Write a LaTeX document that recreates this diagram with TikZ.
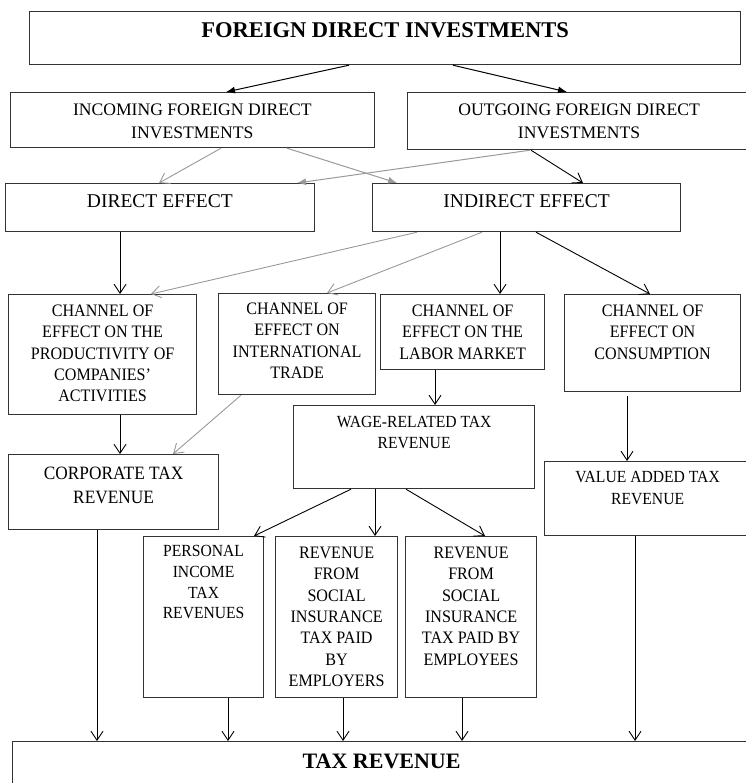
\documentclass[tikz,border=0pt]{standalone}
\usepackage{fontspec}
\setmainfont{Liberation Serif}
\newfontfamily\condfont{Liberation Serif}[FakeStretch=0.92]
\usetikzlibrary{arrows.meta}
\newcommand{\boxtext}[4]{\parbox[t][#2pt][t]{#1pt}{\centering\vspace*{#3pt}#4\par}}
\begin{document}
\begin{tikzpicture}[x=1pt,y=-1pt,
            blk/.style={draw=black!80, line width=1.2pt, anchor=north west, inner sep=0pt,
                        font=\condfont\fontsize{17.5}{21.3}\selectfont},
            arr/.style={draw=black, line width=0.9pt, -{Straight Barb[length=9pt,width=12pt]}},
            garr/.style={arr, draw=black!40},
            farr/.style={draw=black, line width=1pt, -{Latex[length=9pt,width=7pt]}},
            gfarr/.style={farr, draw=black!40}]
            \useasboundingbox (0,0) rectangle (745,783);
            % boxes
            \node[blk, font=\normalfont] (fdi) at (29,11){\boxtext{711}{53}{11}{\fontsize{22.5}{27}\selectfont\bfseries FOREIGN DIRECT INVESTMENTS}};
            \node[blk, font=\normalfont\fontsize{17.6}{23}\selectfont] (inc) at (9.5,92){\boxtext{364.5}{55}{11}{INCOMING FOREIGN DIRECT\\INVESTMENTS}};
            \node[blk, font=\normalfont\fontsize{17.6}{23}\selectfont] (out) at (407,92){\boxtext{343}{57}{11}{OUTGOING FOREIGN DIRECT\\INVESTMENTS}};
            \node[blk, font=\normalfont\fontsize{19.5}{23}\selectfont] (dir) at (5,183){\boxtext{308.5}{48}{10.5}{DIRECT EFFECT}};
            \node[blk, font=\normalfont\fontsize{19.5}{23}\selectfont] (ind) at (372,183){\boxtext{308}{48}{10.5}{INDIRECT EFFECT}};
            \node[blk] (ch1) at (8,294){\boxtext{188}{120}{10.5}{CHANNEL OF\\EFFECT ON THE\\PRODUCTIVITY OF\\COMPANIES’\\ACTIVITIES}};
            \node[blk] (ch2) at (218,293){\boxtext{157}{101}{9.5}{CHANNEL OF\\EFFECT ON\\INTERNATIONAL\\TRADE}};
            \node[blk] (ch3) at (380,294){\boxtext{164}{75}{10.5}{CHANNEL OF\\EFFECT ON THE\\LABOR MARKET}};
            \node[blk] (ch4) at (564,294){\boxtext{176}{97}{10.5}{CHANNEL OF\\EFFECT ON\\CONSUMPTION}};
            \node[blk, font=\condfont\fontsize{17}{21.3}\selectfont] (wage) at (293,405){\boxtext{241}{83}{10.5}{WAGE-RELATED TAX\\REVENUE}};
            \node[blk, font=\condfont\fontsize{18.8}{24}\selectfont] (corp) at (8,454){\boxtext{210}{75}{12}{CORPORATE TAX\\REVENUE}};
            \node[blk, font=\condfont\fontsize{17}{22}\selectfont] (vat) at (544,461){\boxtext{206}{74}{10}{VALUE ADDED TAX\\REVENUE}};
            \node[blk, font=\condfont\fontsize{17}{20.6}\selectfont] (pit) at (143,536){\boxtext{120}{161}{9}{PERSONAL\\INCOME\\TAX\\REVENUES}};
            \node[blk] (sit1) at (275,536){\boxtext{122}{161}{10.5}{REVENUE\\FROM\\SOCIAL\\INSURANCE\\TAX PAID\\BY\\EMPLOYERS}};
            \node[blk] (sit2) at (405,536){\boxtext{131}{161}{10.5}{REVENUE\\FROM\\SOCIAL\\INSURANCE\\TAX PAID BY\\EMPLOYEES}};
            \node[blk, font=\normalfont] (tax) at (12,741){\boxtext{738}{60}{12.5}{\fontsize{22}{26}\selectfont\bfseries TAX REVENUE}};
            % connectors
            \draw[farr] (349,0 |- fdi.south) -- (226,0 |- inc.north);
            \draw[farr] (453,0 |- fdi.south) -- (567,0 |- out.north);
            \draw[garr] (221,0 |- inc.south) -- (159,0 |- dir.north);
            \draw[gfarr] (287,0 |- inc.south) -- (397,0 |- ind.north);
            \draw[gfarr] (530,0 |- out.south) -- (297,0 |- dir.north);
            \draw[arr] (531,0 |- out.south) -- (583,0 |- ind.north);
            \draw[arr] (120,0 |- dir.south) -- (120,0 |- ch1.north);
            \draw[garr] (417,0 |- ind.south) -- (151,0 |- ch1.north);
            \draw[garr] (482,0 |- ind.south) -- (327,0 |- ch2.north);
            \draw[arr] (500,0 |- ind.south) -- (500,0 |- ch3.north);
            \draw[arr] (536,0 |- ind.south) -- (650,0 |- ch4.north);
            \draw[arr] (435,0 |- ch3.south) -- (435,0 |- wage.north);
            \draw[arr] (120,0 |- ch1.south) -- (120,0 |- corp.north);
            \draw[garr] (241,0 |- ch2.south) -- (173,0 |- corp.north);
            \draw[arr, shorten <=4pt] (627,0 |- ch4.south) -- (627,0 |- vat.north);
            \draw[arr] (351,0 |- wage.south) -- (254,0 |- pit.north);
            \draw[arr] (375,0 |- wage.south) -- (375,0 |- sit1.north);
            \draw[arr] (406,0 |- wage.south) -- (485,0 |- sit2.north);
            \foreach \src/\xx in {corp/97, pit/228, sit1/343, sit2/462, vat/635}
                \draw[arr] (\xx,0 |- \src.south) -- (\xx,0 |- tax.north);
        \end{tikzpicture}
\end{document}
